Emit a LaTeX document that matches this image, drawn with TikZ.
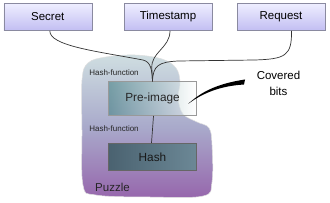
\documentclass[tikz,border=0pt]{standalone}
\usepackage{fontspec}
\setmainfont{Liberation Sans}
\usetikzlibrary{calc}
\definecolor{boxtop}{HTML}{EEEEFF}
\definecolor{boxbot}{HTML}{C2BEF2}
\definecolor{boxline}{HTML}{8A8AA0}
\definecolor{blobtop}{HTML}{CFDEE1}
\definecolor{blobmid}{HTML}{A9AACB}
\definecolor{blobbot}{HTML}{9666AC}
\definecolor{preleft}{HTML}{3A7A7C}
\definecolor{hashleft}{HTML}{4A6270}
\definecolor{hashright}{HTML}{6C8896}
\definecolor{wire}{HTML}{333333}
\begin{document}
\begin{tikzpicture}[x=1pt,y=-1pt,
  inbox/.style={draw=boxline, line width=0.6pt, top color=boxtop, bottom color=boxbot,
    minimum width=88pt, minimum height=27pt, inner sep=0pt, font=\fontsize{11.5}{13}\selectfont},
  wireline/.style={draw=wire, line width=0.7pt},
  smalllbl/.style={font=\fontsize{8}{9}\selectfont, text=black!85, inner sep=0pt},
  biglbl/.style={font=\fontsize{11.5}{13}\selectfont, inner sep=0pt}]
\useasboundingbox (0,0) rectangle (330,203);
% puzzle blob
\path[draw=white!75!gray, line width=0.5pt, top color=blobtop, bottom color=blobbot, middle color=blobmid]
  plot[smooth cycle, tension=0.6] coordinates {
   (82,80) (88,63) (106,57) (135,55) (162,59) (176,68) (180,82) (178,98) (183,114)
   (197,122) (209,128) (212,145) (212,182) (203,196) (150,197) (96,195) (83,185) (82,130)};
% nodes
\node[inbox] (S) at (47.8,17) {Secret};
\node[inbox] (T) at (168,17) {Timestamp};
\node[inbox] (R) at (281,17) {Request};
\node[draw=gray!80, line width=0.6pt, left color=preleft, right color=white, fill opacity=0.55,
  text opacity=1, minimum width=88.4pt, minimum height=34pt, inner sep=0pt,
  font=\fontsize{11.8}{13}\selectfont, text=black!85] (P) at (152.5,98.7) {Pre-image};
\node[draw=black!60, line width=0.6pt, left color=hashleft, right color=hashright,
  minimum width=88.4pt, minimum height=27.4pt, inner sep=0pt,
  font=\fontsize{11.8}{13}\selectfont, text=black!90] (H) at (152.5,157) {Hash};
\node[smalllbl] (hf1) at (114,72.5) {Hash-function};
\node[smalllbl] (hf2) at (114,129) {Hash-function};
\node[biglbl, text=black!85] (pz) at (112.5,187) {Puzzle};
\node[biglbl, align=center, font=\fontsize{11.5}{15.5}\selectfont] (cb) at (278.5,83.5) {Covered\\bits};
% connectors
\draw[wireline] ([xshift=2pt]S.south) .. controls +(0,15) and (95,51) .. (143,60)
  .. controls (151,62) and (152,70) .. (P.north);
\draw[wireline] ([xshift=2pt]T.south) .. controls (170,48) and (151,52) .. (151.8,68) -- (P.north);
\draw[wireline] ([xshift=10.5pt]R.south) .. controls (292,56) and (285,59) .. (255,60) -- (178,61)
  .. controls (158,62) and (153,66) .. (P.north);
\draw[wireline] ([xshift=1pt]P.south) -- ([xshift=-1pt]H.north);
% pointer to covered bits
\coordinate (tip) at (188,104);
\coordinate (tail) at ($(cb.west)+(-12,-3)$);
\fill[black] (tip) .. controls (200,93) and (215,84) .. (245,79.5) -- (244,84.5)
  .. controls (220,86) and (203,93) .. (tip) -- cycle;
\end{tikzpicture}
\end{document}
